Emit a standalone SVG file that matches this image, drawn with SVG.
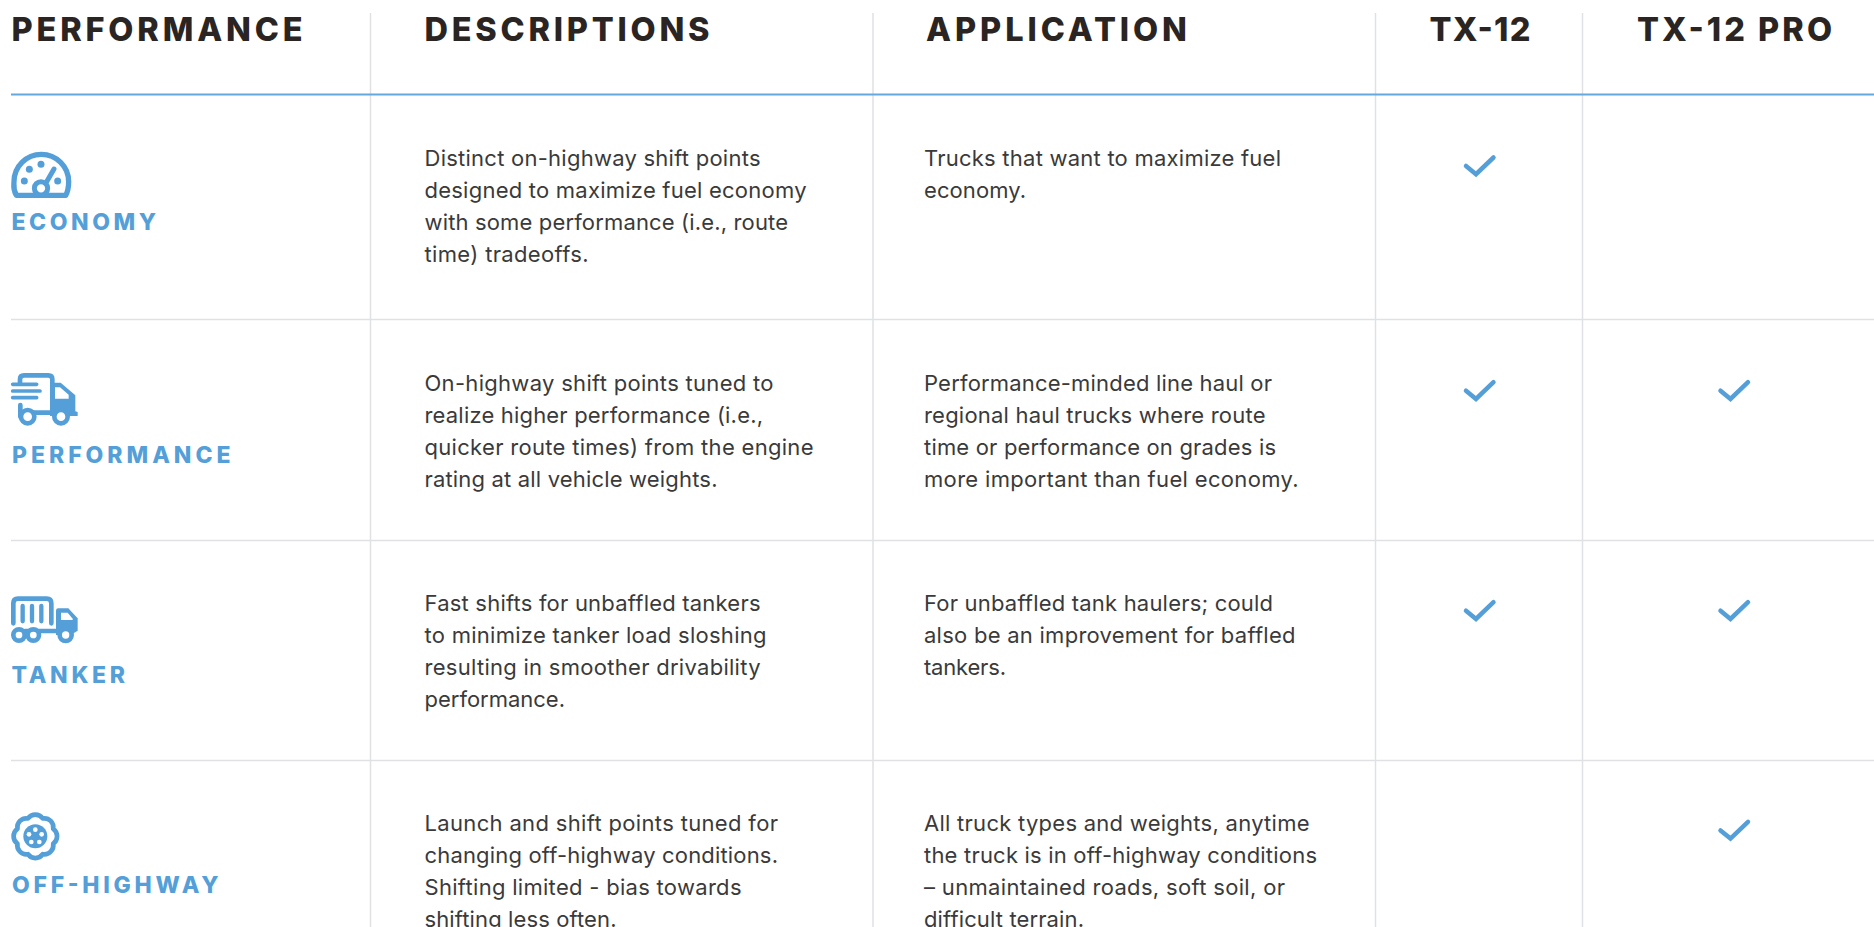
<svg xmlns="http://www.w3.org/2000/svg" xmlns:xlink="http://www.w3.org/1999/xlink" width="1874" height="927" viewBox="0 0 1874 927">
<style>
text{font-family:"Inter","Liberation Sans",sans-serif}
.h{font-size:32.500px;font-weight:800;fill:#2a2523}
.l{font-size:23px;font-weight:800;fill:#559fd9}
.b{font-size:22px;font-weight:400;fill:#3a3a3a}
.g{stroke:#dfe1e5;stroke-width:1.5;fill:none}
.s{fill:none;stroke:#559fd9;stroke-linecap:round;stroke-linejoin:round}
.f{fill:#559fd9}
.w{fill:#fff}
</style>
<defs>
<path id="chk" d="M1466 166L1476 174.200L1493.500 157.500" fill="none" stroke="#559fd9" stroke-width="4.500" stroke-linecap="round" stroke-linejoin="miter"/>
</defs>
<rect width="1874" height="927" fill="#fff"/>
<g id="grid">
<path class="g" d="M370.500 13V927M873 13V927M1375.500 13V927M1582.500 13V927"/>
<path class="g" d="M11 319.500H1874M11 540.500H1874M11 760.500H1874"/>
<path d="M11 94.500H1874" stroke="#64a8e0" stroke-width="2" fill="none"/>
</g>
<g id="header">
<text class="h" x="11.500" y="40.500" textLength="291">PERFORMANCE</text>
<text class="h" x="424.500" y="40.500" textLength="285">DESCRIPTIONS</text>
<text class="h" x="926" y="40.500" textLength="261">APPLICATION</text>
<text class="h" x="1429.500" y="40.500" textLength="101">TX-12</text>
<text class="h" x="1637" y="40.500" textLength="195">TX-12 PRO</text>
</g>
<g id="row-economy">
<g transform="scale(.33333)">
<path class="s" stroke-width="16" d="M49 586C38 566 42 552 42 545A82 82 0 0 1 206 545C206 560 206 570 197 586Z"/>
<circle class="f" cx="88" cy="508" r="10.500"/><circle class="f" cx="123" cy="493" r="10.500"/><circle class="f" cx="73" cy="543" r="10.500"/><circle class="f" cx="173" cy="543" r="10.500"/>
<path class="s" stroke-width="15" d="M140 545L162 507"/>
<circle class="w" cx="123" cy="565" r="20" stroke="#559fd9" stroke-width="15"/>
</g>
<text class="l" x="11.500" y="229.500" textLength="144.500">ECONOMY</text>
<text class="b" x="424.500" y="165.700" textLength="336">Distinct on-highway shift points</text>
<text class="b" x="424.500" y="197.700" textLength="382">designed to maximize fuel economy</text>
<text class="b" x="424.500" y="229.700" textLength="363.500">with some performance (i.e., route</text>
<text class="b" x="424.500" y="261.700" textLength="164">time) tradeoffs.</text>
<text class="b" x="924" y="165.700" textLength="357">Trucks that want to maximize fuel</text>
<text class="b" x="924" y="197.700" textLength="102">economy.</text>
<use xlink:href="#chk" href="#chk"/>
</g>
<g id="row-performance">
<g transform="translate(0 350) scale(.33333)">
<path class="s" stroke-width="14" d="M60 100V88Q60 76 72 76H145Q157 76 157 88V190"/>
<path class="s" stroke-width="11" d="M38 103H110M38 123H120M38 143H110"/>
<path class="f" d="M150 98H182L226 136V184L233 186V198H150Z"/>
<path class="w" d="M165 112H180L206 134V146H165Z"/>
<path class="s" stroke-width="14" d="M61 165V200M100 188H160"/>
<circle class="w" cx="83" cy="200" r="20" stroke="#559fd9" stroke-width="14"/>
<circle class="w" cx="183" cy="200" r="20" stroke="#559fd9" stroke-width="14"/>
</g>
<text class="l" x="12" y="462.500" textLength="218.500">PERFORMANCE</text>
<text class="b" x="424.500" y="390.700" textLength="349">On-highway shift points tuned to</text>
<text class="b" x="424.500" y="422.700" textLength="338.500">realize higher performance (i.e.,</text>
<text class="b" x="424.500" y="454.700" textLength="389">quicker route times) from the engine</text>
<text class="b" x="424.500" y="486.700" textLength="293">rating at all vehicle weights.</text>
<text class="b" x="924" y="390.700" textLength="348">Performance-minded line haul or</text>
<text class="b" x="924" y="422.700" textLength="341.500">regional haul trucks where route</text>
<text class="b" x="924" y="454.700" textLength="352">time or performance on grades is</text>
<text class="b" x="924" y="486.700" textLength="374.500">more important than fuel economy.</text>
<use xlink:href="#chk" href="#chk" y="224.700"/>
<use xlink:href="#chk" href="#chk" x="254.500" y="224.700"/>
</g>
<g id="row-tanker">
<g transform="translate(0 580) scale(.33333)">
<path class="s" stroke-width="14" d="M40 130V70Q40 56 54 56H140Q154 56 154 70V130"/>
<path class="s" stroke-width="13" d="M68 78V124M96 78V124M124 78V124"/>
<path class="f" d="M168 92Q168 85 175 85H205L233 115V152L212 165H168Z"/>
<path class="w" d="M183 98H203L218 116V120H183Z"/>
<path class="s" stroke-width="13" d="M75 153H175"/>
<circle class="w" cx="57" cy="165" r="17" stroke="#559fd9" stroke-width="14"/>
<circle class="w" cx="100" cy="165" r="17" stroke="#559fd9" stroke-width="14"/>
<circle class="w" cx="197" cy="165" r="18" stroke="#559fd9" stroke-width="14"/>
</g>
<text class="l" x="11.500" y="682.500" textLength="113.500">TANKER</text>
<text class="b" x="424.500" y="611.200" textLength="336">Fast shifts for unbaffled tankers</text>
<text class="b" x="424.500" y="643.200" textLength="342">to minimize tanker load sloshing</text>
<text class="b" x="424.500" y="675.200" textLength="336">resulting in smoother drivability</text>
<text class="b" x="424.500" y="707.200" textLength="140.500">performance.</text>
<text class="b" x="924" y="611.200" textLength="349">For unbaffled tank haulers; could</text>
<text class="b" x="924" y="643.200" textLength="371.500">also be an improvement for baffled</text>
<text class="b" x="924" y="675.200" textLength="82">tankers.</text>
<use xlink:href="#chk" href="#chk" y="444.700"/>
<use xlink:href="#chk" href="#chk" x="254.500" y="444.700"/>
</g>
<g id="row-off-highway">
<g transform="translate(0 790) scale(.33333)">
<path class="s" stroke-width="14" transform="translate(106 139)" d="M-22.200 -53.600A27 27 0 0 1 22.200 -53.600A27 27 0 0 1 53.600 -22.200A27 27 0 0 1 53.600 22.200A27 27 0 0 1 22.200 53.600A27 27 0 0 1 -22.200 53.600A27 27 0 0 1 -53.600 22.200A27 27 0 0 1 -53.600 -22.200A27 27 0 0 1 -22.200 -53.600Z"/>
<circle class="f" cx="106" cy="139" r="36"/>
<circle class="w" cx="106" cy="119" r="7"/><circle class="w" cx="87" cy="133" r="7"/><circle class="w" cx="125" cy="133" r="7"/><circle class="w" cx="94" cy="156" r="7"/><circle class="w" cx="118" cy="156" r="7"/>
</g>
<text class="l" x="12" y="892.500" textLength="206.500">OFF-HIGHWAY</text>
<text class="b" x="424.500" y="830.500" textLength="353.500">Launch and shift points tuned for</text>
<text class="b" x="424.500" y="862.500" textLength="353.500">changing off-highway conditions.</text>
<text class="b" x="424.500" y="894.500" textLength="317">Shifting limited - bias towards</text>
<text class="b" x="424.500" y="926.500" textLength="192">shifting less often.</text>
<text class="b" x="924" y="830.500" textLength="385.500">All truck types and weights, anytime</text>
<text class="b" x="924" y="862.500" textLength="393">the truck is in off-highway conditions</text>
<text class="b" x="924" y="894.500" textLength="361">– unmaintained roads, soft soil, or</text>
<text class="b" x="924" y="926.500" textLength="160">difficult terrain.</text>
<use xlink:href="#chk" href="#chk" x="254.500" y="664.400"/>
</g>
</svg>
